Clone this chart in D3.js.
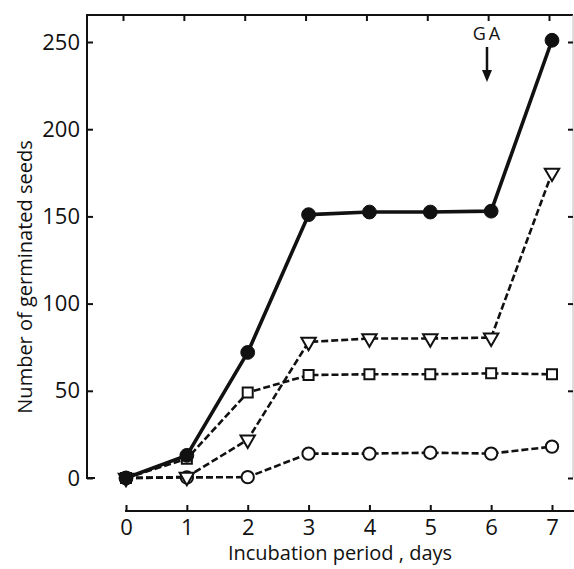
<!DOCTYPE html>
<html>
<head>
<meta charset="utf-8">
<script src="https://cdn.jsdelivr.net/npm/d3@7"></script>
<style>
  body { margin: 0; background: #fff; }
  svg { display: block; }
  text { font-family: "Open Sans", sans-serif; fill: #111; }
</style>
</head>
<body>
<svg width="574" height="569"></svg>
<script>
'use strict';

// data
var days = [0, 1, 2, 3, 4, 5, 6, 7];
var filledCircle = [0, 13, 72, 151, 152.5, 152.5, 153, 251];
var openTriangle = [0, 0.6, 22, 78, 80, 80, 80.5, 175];
var openSquare = [0, 11, 49, 59, 59.5, 59.5, 60, 59.5];
var openCircle = [0, 0.3, 0.5, 14, 14, 14.5, 14, 18];
var yTicks = [0, 50, 100, 150, 200, 250];

var svg = d3.select('svg');

var x = d3.scaleLinear().domain([0, 7]).range([126, 552]);
var y = d3.scaleLinear().domain([0, 250]).range([478, 42]);

var ink = '#111';

// frame: top line and left line with a small foot at zero
svg.append('path')
  .attr('d', 'M573,15H87V478H95')
  .attr('fill', 'none')
  .attr('stroke', ink)
  .attr('stroke-width', 2);
svg.append('line')
  .attr('x1', 573).attr('x2', 573)
  .attr('y1', 15).attr('y2', 478)
  .attr('stroke', '#bbb')
  .attr('stroke-width', 1);

// left axis, ticks pointing inward
var yAxis = svg.append('g')
  .attr('transform', 'translate(87,0)')
  .call(d3.axisLeft(y).tickValues(yTicks).tickSizeInner(-6).tickSizeOuter(0).tickPadding(7));
yAxis.select('.domain').remove();
yAxis.selectAll('line').attr('stroke', ink).attr('stroke-width', 2);
yAxis.selectAll('text').attr('font-size', 22).attr('font-family', '"Open Sans", sans-serif').attr('fill', ink);

// right-side ticks
var rAxis = svg.append('g')
  .attr('transform', 'translate(573,0)')
  .call(d3.axisLeft(y).tickValues(yTicks).tickSize(5).tickFormat(''));
rAxis.select('.domain').remove();
rAxis.selectAll('line').attr('stroke', ink).attr('stroke-width', 2);

// top ticks
var tAxis = svg.append('g')
  .attr('transform', 'translate(-3,15)')
  .call(d3.axisTop(x).tickValues(days).tickSize(-6).tickFormat(''));
tAxis.select('.domain').remove();
tAxis.selectAll('line').attr('stroke', ink).attr('stroke-width', 2);

// bottom axis, separate from the frame
svg.append('line')
  .attr('x1', 125).attr('x2', 574)
  .attr('y1', 511).attr('y2', 511)
  .attr('stroke', ink).attr('stroke-width', 2);
var xAxis = svg.append('g')
  .attr('transform', 'translate(0,511)')
  .call(d3.axisBottom(x).tickValues(days).tickFormat(d3.format('d'))
    .tickSizeInner(-6).tickSizeOuter(0).tickPadding(8));
xAxis.select('.domain').remove();
xAxis.selectAll('line').attr('stroke', ink).attr('stroke-width', 2);
xAxis.selectAll('text').attr('font-size', 22).attr('font-family', '"Open Sans", sans-serif').attr('fill', ink);

// axis titles
svg.append('text')
  .attr('x', 340).attr('y', 560)
  .attr('text-anchor', 'middle')
  .attr('font-size', 20)
  .text('Incubation period , days');
svg.append('text')
  .attr('transform', 'translate(32,277) rotate(-90)')
  .attr('text-anchor', 'middle')
  .attr('font-size', 20)
  .text('Number of germinated seeds');

// series
var line = d3.line()
  .x(function (d, i) { return x(days[i]); })
  .y(function (d) { return y(d); });

function drawLine(values, dashed) {
  svg.append('path')
    .datum(values)
    .attr('d', line)
    .attr('fill', 'none')
    .attr('stroke', ink)
    .attr('stroke-width', dashed ? 2.6 : 3.6)
    .attr('stroke-dasharray', dashed ? '7,3' : null)
    .attr('stroke-linejoin', 'round');
}

drawLine(openCircle, true);
drawLine(openSquare, true);
drawLine(openTriangle, true);
drawLine(filledCircle, false);

function drawMarks(values, shape, size, rotate, filled) {
  svg.append('g')
    .selectAll('path')
    .data(values)
    .enter()
    .append('path')
    .attr('d', d3.symbol().type(shape).size(size))
    .attr('transform', function (d, i) {
      return 'translate(' + x(days[i]) + ',' + y(d) + ') rotate(' + rotate + ')';
    })
    .attr('fill', filled ? ink : '#fff')
    .attr('stroke', ink)
    .attr('stroke-width', filled ? 1 : 2);
}

drawMarks(openCircle, d3.symbolCircle, 120, 0, false);
drawMarks(openSquare, d3.symbolSquare, 100, 0, false);
drawMarks(openTriangle, d3.symbolTriangle, 90, 180, false);
drawMarks(filledCircle, d3.symbolCircle, 150, 0, true);

// GA marker
svg.append('text')
  .attr('x', 488).attr('y', 40)
  .attr('text-anchor', 'middle')
  .attr('font-size', 18)
  .attr('letter-spacing', 3)
  .text('GA');
svg.append('line')
  .attr('x1', 487).attr('x2', 487)
  .attr('y1', 47).attr('y2', 72)
  .attr('stroke', ink).attr('stroke-width', 2.5);
svg.append('path')
  .attr('d', 'M482,70L492,70L487,82Z')
  .attr('fill', ink);
</script>
</body>
</html>
